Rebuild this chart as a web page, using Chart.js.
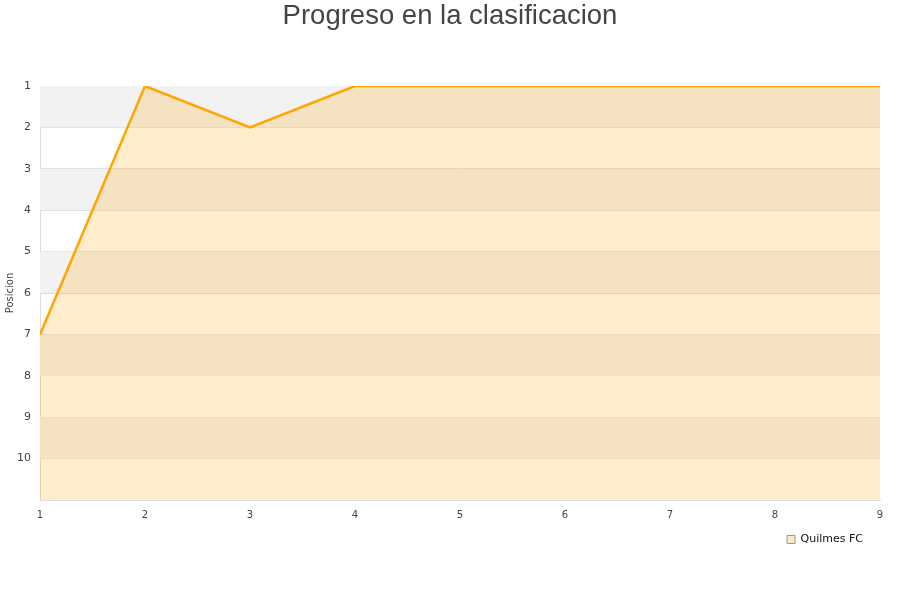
<!DOCTYPE html>
<html>
<head>
<meta charset="utf-8">
<script src="https://cdn.jsdelivr.net/npm/chart.js@4/dist/chart.umd.min.js"></script>
<style>
  body { margin: 0; background: #fff; }
  #wrap { width: 900px; height: 600px; }
</style>
</head>
<body>
<div id="wrap"><canvas id="myChart"></canvas></div>
<script>
// datos
var jornadas = [1, 2, 3, 4, 5, 6, 7, 8, 9];
var posiciones = [7, 1, 2, 1, 1, 1, 1, 1, 1];
var equipo = 'Quilmes FC';
var posMin = 1;
var posMax = 11;

// franjas alternadas de fondo (gris en 1-2, 3-4, ...)
var bandas = {
    id: 'bandas',
    beforeDatasetsDraw: function (chart) {
        let c = chart.ctx;
        let y = chart.scales.y;
        let area = chart.chartArea;
        c.save();
        for (let v = posMin; v < posMax; v += 2) {
            let y1 = y.getPixelForValue(v);
            let y2 = y.getPixelForValue(v + 1);
            c.fillStyle = '#f2f2f2';
            c.fillRect(area.left, y1, area.right - area.left, y2 - y1);
        }
        c.restore();
    }
};

// corre la leyenda un poco a la izquierda y abajo
var moverLeyenda = {
    id: 'moverLeyenda',
    afterLayout: function (chart) {
        let l = chart.legend;
        l.right -= 27;
        l.top += 2;
        l.bottom += 2;
    }
};

var ctx = document.getElementById('myChart');

var chart = new Chart(ctx, {
    type: 'line',
    data: {
        datasets: [{
            label: equipo,
            data: jornadas.map(function (j, i) { return {x: j, y: posiciones[i]}; }),
            borderColor: '#ffa500',
            backgroundColor: 'rgba(255, 165, 0, 0.2)',
            borderWidth: 2.5,
            pointRadius: 0,
            tension: 0,
            fill: {value: posMax}
        }]
    },
    options: {
        responsive: true,
        maintainAspectRatio: false,
        animation: false,
        layout: { padding: {left: 0, right: 0, top: 0, bottom: 47} },
        plugins: {
            title: {
                display: true,
                text: 'Progreso en la clasificacion',
                color: '#444',
                font: {family: 'Liberation Sans', size: 27.5, weight: 'normal'},
                padding: {top: 0, bottom: 53}
            },
            legend: {
                position: 'bottom',
                align: 'end',
                labels: {
                    boxWidth: 8,
                    boxHeight: 8,
                    color: '#111',
                    font: {family: 'DejaVu Sans', size: 11},
                    padding: 10,
                    generateLabels: function (chart) {
                        return chart.data.datasets.map(function (ds, i) {
                            return {
                                text: ds.label,
                                fillStyle: '#fde9c3',
                                strokeStyle: '#999',
                                lineWidth: 1,
                                fontColor: '#111',
                                datasetIndex: i
                            };
                        });
                    }
                }
            },
            tooltip: {enabled: false}
        },
        scales: {
            x: {
                type: 'linear',
                min: 1,
                max: 9,
                grid: {display: false},
                border: {color: '#ddd'},
                ticks: {
                    stepSize: 1,
                    color: '#444',
                    font: {family: 'DejaVu Sans', size: 10},
                    padding: 1
                }
            },
            y: {
                reverse: true,
                min: posMin,
                max: posMax,
                grid: {color: '#ddd', drawTicks: false},
                border: {color: '#ddd'},
                afterFit: function (s) { s.width = 40; },
                title: {
                    display: true,
                    text: 'Posicion',
                    color: '#444',
                    font: {family: 'DejaVu Sans', size: 10},
                    padding: {top: 4, bottom: 0}
                },
                ticks: {
                    stepSize: 1,
                    color: '#444',
                    font: {family: 'DejaVu Sans', size: 11},
                    padding: 9,
                    callback: function (value) { if (value <= 10) { return value; } return ''; }
                }
            },
            y2: {
                position: 'right',
                min: posMin,
                max: posMax,
                grid: {display: false},
                border: {display: false},
                ticks: {display: false},
                afterFit: function (s) { s.width = 20; }
            }
        }
    },
    plugins: [bandas, moverLeyenda]
});
</script>
</body>
</html>
